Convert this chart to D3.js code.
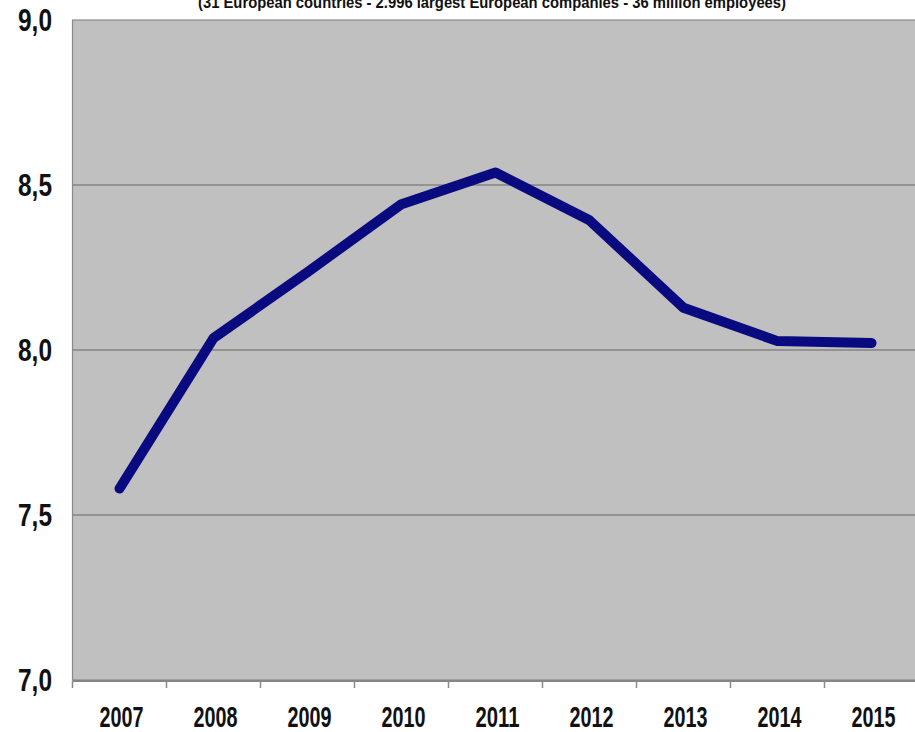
<!DOCTYPE html>
<html>
<head>
<meta charset="utf-8">
<script src="https://cdn.jsdelivr.net/npm/d3@7"></script>
<style>
  html, body { margin: 0; padding: 0; background: #fff; overflow: hidden; }
  svg { display: block; }
  text { font-family: "Liberation Sans", Arial, sans-serif; font-weight: bold; fill: #111; }
</style>
</head>
<body>
<svg id="chart" width="915" height="732"></svg>
<script>
const years = ["2007","2008","2009","2010","2011","2012","2013","2014","2015"];
const values = [7.58, 8.036, 8.236, 8.442, 8.538, 8.393, 8.128, 8.027, 8.021];
const yTicks = [7.0, 7.5, 8.0, 8.5, 9.0];
const yTickLabels = ["7,0", "7,5", "8,0", "8,5", "9,0"];
const subtitle = "(31 European countries - 2.996 largest European companies - 36 million employees)";

(function () {
const svg = d3.select("#chart");
const pL = 72.5, pR = 918.5, pT = 20, pB = 680;

const x = d3.scaleBand().domain(years).range([pL, pR]).paddingInner(0).paddingOuter(0);
const y = d3.scaleLinear().domain([7, 9]).range([pB, pT]);

// plot background
svg.append("rect")
  .attr("x", pL).attr("y", pT)
  .attr("width", pR - pL).attr("height", pB - pT)
  .attr("fill", "#c0c0c0")
  .attr("stroke", "#8a8a8a").attr("stroke-width", 1.2);

// gridlines
svg.append("g").selectAll("line")
  .data(yTicks.filter(d => d > 7 && d < 9))
  .join("line")
  .attr("x1", pL).attr("x2", pR)
  .attr("y1", d => y(d)).attr("y2", d => y(d))
  .attr("stroke", "#858585").attr("stroke-width", 1.5);

// bottom axis line & ticks
svg.append("line")
  .attr("x1", pL).attr("x2", pR)
  .attr("y1", pB + 1).attr("y2", pB + 1)
  .attr("stroke", "#858585").attr("stroke-width", 2);

const boundaries = years.map(d => x(d)).concat([pR]);
svg.append("g").selectAll("line")
  .data(boundaries)
  .join("line")
  .attr("x1", d => d).attr("x2", d => d)
  .attr("y1", pB + 1).attr("y2", pB + 8)
  .attr("stroke", "#8a8a8a").attr("stroke-width", 1.5);

// y labels
svg.append("g").selectAll("text")
  .data(yTicks)
  .join("text")
  .attr("x", 18)
  .attr("y", d => y(d))
  .attr("dy", "0.36em")
  .attr("text-anchor", "start")
  .attr("font-size", 31)
  .attr("textLength", 34)
  .attr("lengthAdjust", "spacingAndGlyphs")
  .text((d, i) => yTickLabels[i]);

// x labels
svg.append("g").selectAll("text")
  .data(years)
  .join("text")
  .attr("x", d => x(d) + x.bandwidth() / 2 + 2 - 22)
  .attr("y", 727)
  .attr("text-anchor", "start")
  .attr("font-size", 30)
  .attr("textLength", 44)
  .attr("lengthAdjust", "spacingAndGlyphs")
  .text(d => d);

// subtitle (cut off at top)
svg.append("text")
  .attr("x", 198)
  .attr("y", 8)
  .attr("text-anchor", "start")
  .attr("font-size", 17)
  .attr("textLength", 588)
  .attr("lengthAdjust", "spacingAndGlyphs")
  .text(subtitle);

// line
const line = d3.line()
  .x((d, i) => x(years[i]) + x.bandwidth() / 2)
  .y(d => y(d));

svg.append("path")
  .datum(values)
  .attr("d", line)
  .attr("fill", "none")
  .attr("stroke", "#0a0a80")
  .attr("stroke-width", 10)
  .attr("stroke-linejoin", "round")
  .attr("stroke-linecap", "round");
})();
</script>
</body>
</html>
